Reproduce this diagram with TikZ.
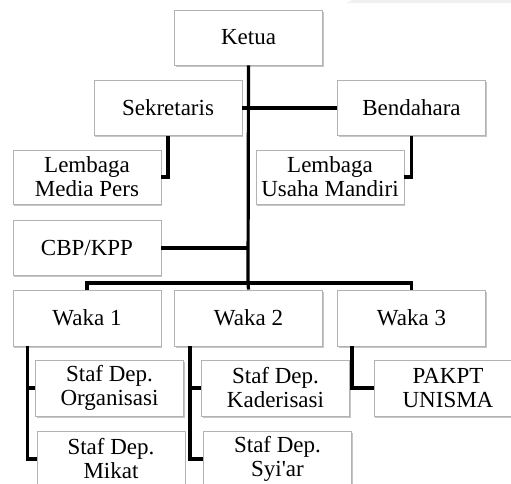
\documentclass[tikz,border=0pt]{standalone}
\usepackage{fontspec}
\setmainfont{Liberation Serif}[Ligatures=TeXOff]
\usetikzlibrary{positioning,calc,shadows}

\tikzset{
    unit/.style={draw=gray!60, line width=0.9pt, fill=white, align=center,
        minimum width=148pt, minimum height=55pt, inner sep=0pt,
        font=\fontsize{23}{24}\selectfont,
        drop shadow={shadow xshift=1.2pt, shadow yshift=-1.5pt, fill=gray!45, opacity=1}},
    link/.style={line width=3.2pt, black}
}

\begin{document}
\begin{tikzpicture}[x=1pt, y=-1pt]
    \useasboundingbox (0,0) rectangle (511,483);
    \clip (0,0) rectangle (511,483);
    \fill[gray!12] (352,0) -- (511,0) -- (511,3) -- (346,3) -- cycle;

    % pimpinan
    \node[unit] (ketua) at (248.5,37.5) {Ketua};
    \node[unit] (sekretaris) at (168,108) {Sekretaris};
    \node[unit] (bendahara) at (411.5,108) {Bendahara};
    \node[unit, minimum height=54pt] (media) at (87,177) {Lembaga\\Media Pers};
    \node[unit, minimum height=54pt] (usaha) at (330,177) {Lembaga\\Usaha Mandiri};
    \node[unit] (cbp) at (87,248) {CBP/KPP};

    % wakil ketua
    \node[unit, minimum height=56pt] (waka1) at (87,318) {Waka 1};
    \node[unit, minimum height=56pt] (waka2) at (248.5,318) {Waka 2};
    \node[unit, minimum height=56pt] (waka3) at (411.5,318) {Waka 3};

    % departemen
    \node[unit, minimum height=56pt] (organisasi) at (109.5,388) {Staf Dep.\\Organisasi};
    \node[unit, minimum height=56pt] (mikat) at (111,459) {Staf Dep.\\Mikat};
    \node[unit, minimum height=56pt] (kaderisasi) at (275.5,388) {Staf Dep.\\Kaderisasi};
    \node[unit, minimum height=56pt] (syiar) at (277.5,459) {Staf Dep.\\Syi\textquotesingle ar};
    \node[unit, minimum height=56pt] (pakpt) at (448,388) {PAKPT\\UNISMA};

    \coordinate (bus) at (248,283);
    \coordinate (w1) at ($(waka1.south west)+(15,0)$);
    \coordinate (w2) at ($(waka2.south west)+(16,0)$);
    \coordinate (w3) at ($(waka3.south west)+(15,0)$);

    % garis
    \draw[link] (ketua.south) -- (bus);
    \draw[link] (sekretaris.east) -- (bendahara.west);
    \draw[link] (sekretaris.south) |- (media.east);
    \draw[link] (bendahara.south) |- (usaha.east);
    \draw[link] (cbp.east) -- (bus |- cbp.east);
    \draw[link] (waka1.north) |- (bus) -| (waka3.north);
    \draw[link] (bus) -- (waka2.north);
    \draw[link] (w1) |- (organisasi.west);
    \draw[link] (w1) |- (mikat.west);
    \draw[link] (w2) |- (kaderisasi.west);
    \draw[link] (w2) |- (syiar.west);
    \draw[link] (w3) |- (pakpt.west);
\end{tikzpicture}
\end{document}
